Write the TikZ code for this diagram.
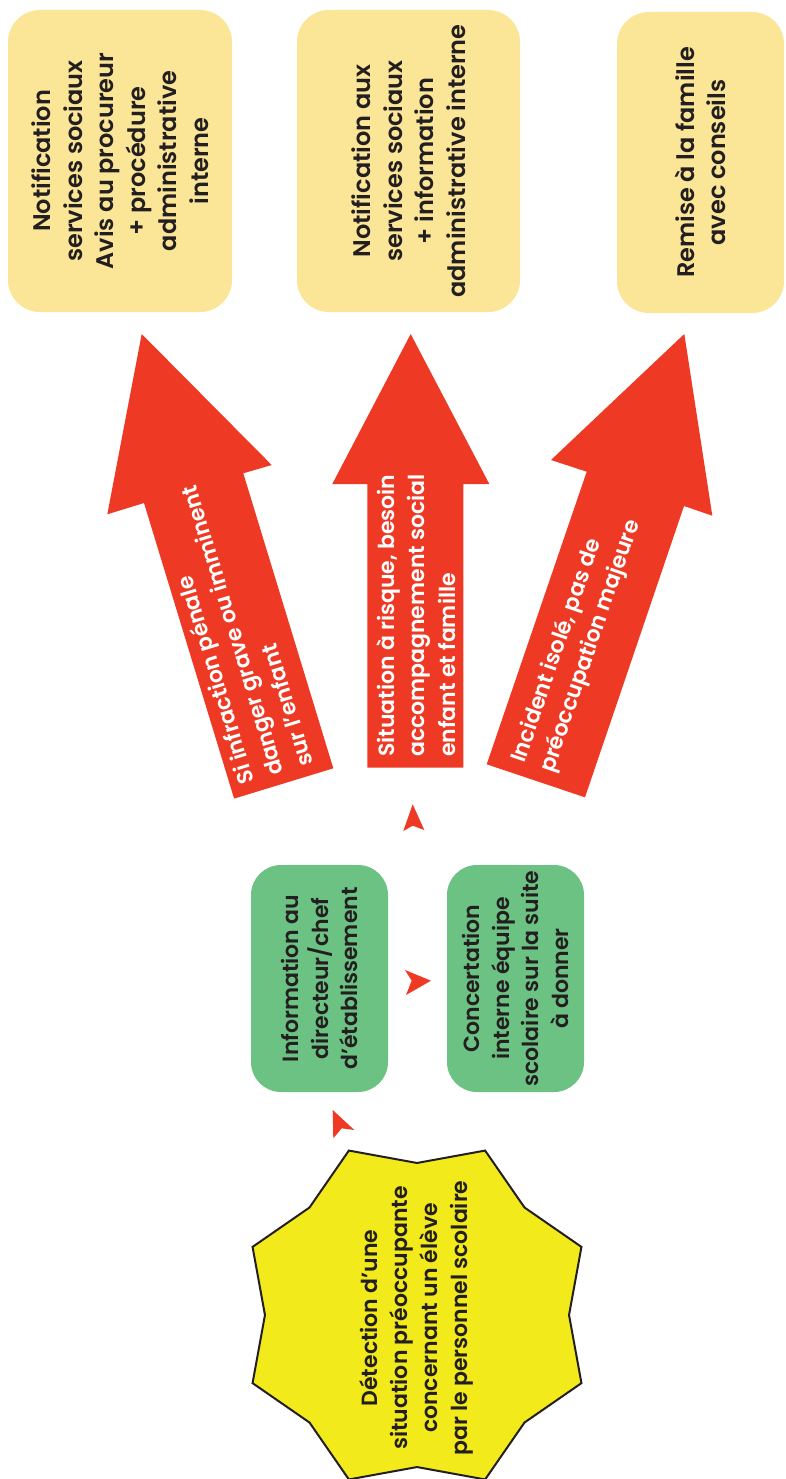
\documentclass[tikz,border=0pt]{standalone}
\usepackage{fontspec}
\setmainfont{Poppins}[BoldFont={Poppins SemiBold}]
\usetikzlibrary{shapes.geometric}
\definecolor{boxyellow}{RGB}{251,229,150}
\definecolor{boxgreen}{RGB}{108,194,131}
\definecolor{arrowred}{RGB}{238,58,36}
\definecolor{staryellow}{RGB}{242,234,27}
\definecolor{ink}{RGB}{35,31,32}
\begin{document}
\begin{tikzpicture}[x=1pt,y=-1pt,
  ybox/.style={rectangle, rounded corners=32pt, fill=boxyellow, rotate=90, inner sep=0pt,
    align=center, text=ink, font=\fontsize{24}{31.5}\selectfont\bfseries},
  gbox/.style={rectangle, rounded corners=30pt, fill=boxgreen, rotate=90, inner sep=0pt,
    align=center, text=ink, minimum width=227pt, minimum height=137pt,
    font=\fontsize{22}{29.5}\selectfont\bfseries},
  bigarrow/.style={fill=arrowred},
  arrowtext/.style={text=white, align=left, anchor=west, inner sep=0pt,
    font=\fontsize{22}{30.5}\selectfont\bfseries},
  tiphead/.style={fill=arrowred},
  startext/.style={rotate=90, align=center, text=ink, inner sep=0pt,
    font=\fontsize{22}{30}\selectfont\bfseries},
  starshape/.style={star, star points=8, star point ratio=1.171, minimum size=356pt,
    inner sep=0pt, draw=ink, line width=2pt, fill=staryellow, shape border rotate=22.5},
]
\useasboundingbox (0,0) rectangle (785,1479);
\fill[white] (0,0) rectangle (785,1479);

% top result boxes
\node[ybox, minimum width=302pt, minimum height=224pt] (r1) at (120,161)
  {Notification\\services sociaux\\Avis au procureur\\+ procédure\\administrative\\interne};
\node[ybox, minimum width=302pt, minimum height=223pt] (r2) at (408.5,161)
  {Notification aux\\services sociaux\\+ information\\administrative interne};
\node[ybox, minimum width=301pt, minimum height=167pt] (r3) at (700.5,162.5)
  {Remise à la famille\\avec conseils};

% big red arrows
\path[bigarrow] (141.7,334) -- (271.7,465) -- (243.3,473.3) -- (333.3,768.3)
  -- (234.1,798.6) -- (144,503) -- (107.3,514.3) -- cycle;
\path[bigarrow] (410.7,334) -- (489.3,484) -- (463.3,484) -- (463.3,767.7)
  -- (367.3,767.7) -- (367.3,484) -- (332.3,484) -- (410.7,334) -- cycle;
\path[bigarrow] (684.3,334) -- (712.3,515.7) -- (684,506) -- (585,797.3)
  -- (486.7,764.3) -- (586.7,471.7) -- (551,460) -- cycle;

\node[arrowtext, rotate=107] (t1) at (275.5,775.5)
  {Si infraction pénale\\danger grave ou imminent\\sur l'enfant};
\node[arrowtext, rotate=90] (t2) at (416,757)
  {Situation à risque, besoin\\accompagnement social\\enfant et famille};
\node[arrowtext, rotate=71] (t3) at (533,767)
  {Incident isolé, pas de\\préoccupation majeure};

% green boxes
\node[gbox] (g1) at (319.5,978.5) {Information au\\directeur/chef\\d'établissement};
\node[gbox] (g2) at (515.5,978.5) {Concertation\\interne équipe\\scolaire sur la suite\\à donner};

% small arrow heads
\fill[tiphead] (412.7,804.3) -- (424.3,830) -- (412.7,825.7) -- (403.3,831) -- cycle;
\fill[tiphead] (431,980.7) -- (406,995) -- (411.7,980.7) -- (405,970) -- cycle;
\fill[tiphead] (332.7,1110) -- (354.3,1130) -- (341.7,1128.3) -- (333.3,1138.3) -- cycle;

% star
\node[starshape] (det) at (417,1315) {};
\node[startext] (dett) at (416,1318)
  {Détection d’une\\situation préoccupante\\concernant un élève\\par le personnel scolaire};
\end{tikzpicture}
\end{document}
